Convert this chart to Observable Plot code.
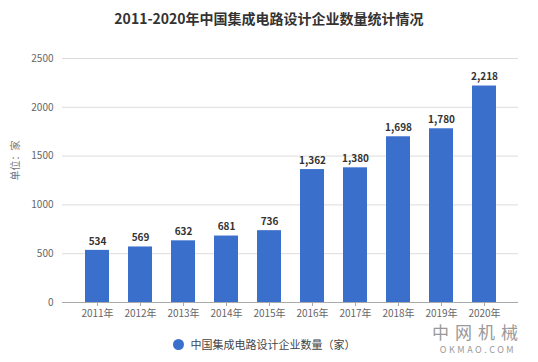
<!DOCTYPE html>
<html>
<head>
<meta charset="utf-8">
<script src="https://cdn.jsdelivr.net/npm/d3@7"></script>
<script src="https://cdn.jsdelivr.net/npm/@observablehq/plot@0.6"></script>
<style>
  body { margin: 0; background: #fff; font-family: "Noto Sans CJK SC", "Noto Sans", sans-serif; }
  #wrap { position: relative; width: 538px; height: 362px; overflow: hidden; }
  #title { height: 36px; line-height: 36px; text-align: center; font-size: 14px; font-weight: bold; color: #333; }
  #legend { height: 36px; display: flex; align-items: center; justify-content: center; font-size: 11px; color: #444; padding-right: 10px; }
  #legend .dot { width: 11px; height: 11px; border-radius: 50%; background: #3A6FCC; margin-right: 7px; }
  #wm { position: absolute; right: 14px; top: 323px; text-align: center; color: #999; }
  #wm .a { font-size: 17px; letter-spacing: 6px; line-height: 18px; height: 18px; }
  #wm .b { font-size: 9px; letter-spacing: 2.5px; line-height: 11px; height: 11px; margin-top: 3px; }
</style>
</head>
<body>
<div id="wrap">
  <div id="title">2011-2020年中国集成电路设计企业数量统计情况</div>
  <div id="chart"></div>
  <div id="legend"><span class="dot"></span><span>中国集成电路设计企业数量（家）</span></div>
  <div id="wm"><div class="a">中网机械</div><div class="b">OKMAO.COM</div></div>
</div>
<script>
const years = ["2011年","2012年","2013年","2014年","2015年","2016年","2017年","2018年","2019年","2020年"];
const counts = [534, 569, 632, 681, 736, 1362, 1380, 1698, 1780, 2218];
const yTicks = [0, 500, 1000, 1500, 2000, 2500];
const yLabel = "单位：家";

const data = years.map((y, i) => ({year: y, value: counts[i]}));
const fmt = d3.format(",");

const chart = Plot.plot({
  width: 538,
  height: 290,
  marginTop: 22,
  marginBottom: 24,
  marginLeft: 62,
  marginRight: 20,
  style: { fontFamily: '"Noto Sans CJK SC", "Noto Sans", sans-serif', fontSize: "10px", color: "#666" },
  x: { domain: years, padding: 0.45, label: null },
  y: { domain: [0, 2500], label: null },
  marks: [
    Plot.gridY(yTicks, { stroke: "#dcdcdc", strokeOpacity: 1 }),
    Plot.axisY(yTicks, { tickSize: 0, tickPadding: 9, tickFormat: d3.format("d"), fill: "#666", label: null }),
    Plot.text([yLabel], { frameAnchor: "left", dx: -47, rotate: -90, fill: "#777", fontSize: 10 }),
    Plot.barY(data, { x: "year", y: "value", fill: "#3A6FCC" }),
    Plot.ruleY([0], { stroke: "#aaa" }),
    Plot.axisX({ tickSize: 4, tickPadding: 3, stroke: "#aaa", fill: "#666", label: null, fontSize: 10 }),
    Plot.text(data, { x: "year", y: "value", text: d => fmt(d.value), dy: -9, fontWeight: "bold", fill: "#333", fontSize: 10 })
  ]
});
document.getElementById("chart").appendChild(chart);
</script>
</body>
</html>
